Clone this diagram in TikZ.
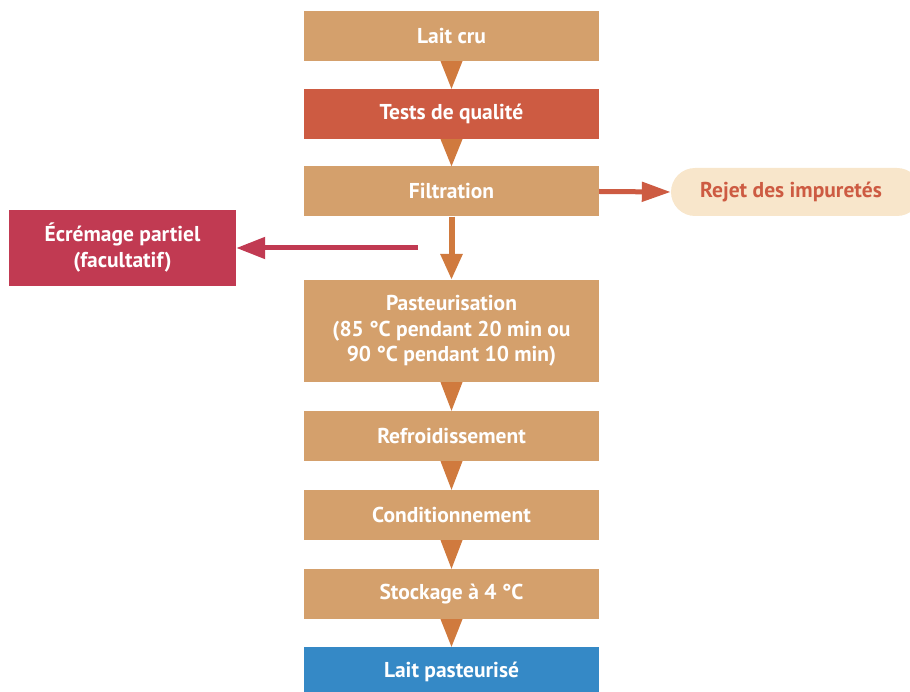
\documentclass[tikz,border=0pt]{standalone}
\usepackage{fontspec}
\setmainfont{PT Sans}
\usetikzlibrary{arrows.meta}
\definecolor{tan}{HTML}{D4A06C}
\definecolor{tri}{HTML}{D07A3E}
\definecolor{brick}{HTML}{CD5B42}
\definecolor{crimson}{HTML}{C13A52}
\definecolor{sky}{HTML}{3589C6}
\definecolor{cream}{HTML}{F8E6CB}
\tikzset{
  stepbox/.style={rectangle, fill=tan, minimum width=295pt, minimum height=50pt,
    inner sep=0pt, text=white, align=center,
    font=\fontsize{21.5}{25.5}\selectfont\bfseries},
  tribox/.style={fill=tri},
  flowarrow/.style={line width=6pt, draw=tri, -{Triangle[width=21pt,length=26pt]}},
}
\begin{document}
\begin{tikzpicture}[x=1pt,y=-1pt]
\useasboundingbox (0,0) rectangle (910,692);
\begin{scope}
\clip (0,0) rectangle (910,692);
% main column
\node[stepbox] (lait) at (451.5,36) {Lait cru};
\node[stepbox, fill=brick] (tests) at (451.5,114) {Tests de qualité};
\node[stepbox] (filt) at (451.5,191.5) {Filtration};
\node[stepbox, minimum height=102pt] (past) at (451.5,331) {Pasteurisation\\(85 °C pendant 20 min ou\\90 °C pendant 10 min)};
\node[stepbox] (refr) at (451.5,436) {Refroidissement};
\node[stepbox] (cond) at (451.5,515) {Conditionnement};
\node[stepbox] (stock) at (451.5,594) {Stockage à 4 °C};
\node[stepbox, fill=sky] (final) at (451.5,672) {Lait pasteurisé};
% side branches
\node[rectangle, fill=crimson, minimum width=227pt, minimum height=76pt, inner sep=0pt,
  text=white, align=center, font=\fontsize{21.5}{26}\selectfont\bfseries]
  (ecr) at (122.5,248) {Écrémage partiel\\(facultatif)};
\node[rectangle, rounded corners=24pt, fill=cream, minimum width=250pt, minimum height=48pt,
  inner sep=0pt, text=brick, font=\fontsize{21.5}{22}\selectfont\bfseries]
  (rejet) at (796,192) {\hspace*{-10pt}Rejet des impuretés};
% triangular connectors
\foreach \a/\b in {lait/tests, tests/filt, past/refr, refr/cond, cond/stock, stock/final}{
  \fill[tribox] ([xshift=-11pt]\a.south) -- ([xshift=11pt]\a.south) -- (\b.north) -- cycle;
}
\draw[flowarrow] (filt.south) -- (past.north);
\coordinate (split) at (418,248);
\draw[line width=5pt, draw=crimson, -{Triangle[width=21pt,length=29pt]}] (split) -- (ecr.east);
\draw[line width=5pt, draw=brick, -{Triangle[width=19pt,length=29pt]}] (filt.east) -- (rejet.west);
\end{scope}
\end{tikzpicture}
\end{document}
